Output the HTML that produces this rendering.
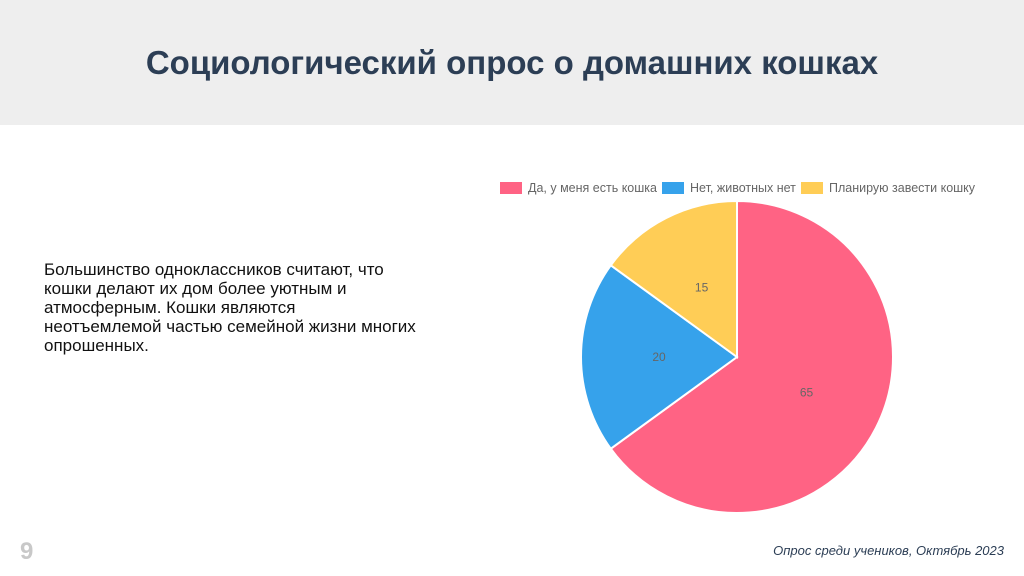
<!DOCTYPE html>
<html><head><meta charset="utf-8"><style>
body{margin:0;width:1024px;height:576px;background:#fff;font-family:"Liberation Sans",sans-serif;position:relative;overflow:hidden}
.hdr{position:absolute;left:0;top:0;width:1024px;height:125px;background:#eeeeee}
.hdr h1{margin:0;position:absolute;left:0;width:1024px;top:44px;text-align:center;font-size:33px;font-weight:bold;color:#2c3e55}
.txt{position:absolute;left:44px;top:260px;white-space:nowrap;font-size:17px;line-height:19px;color:#111}
.num{position:absolute;left:20px;top:538px;font-size:24px;font-weight:bold;color:#c8c8c8}
.src{position:absolute;right:20px;top:543px;font-size:13px;font-style:italic;color:#2c3e55}
</style></head><body>
<div class="hdr"><h1>Социологический опрос о домашних кошках</h1></div>
<div class="txt">Большинство одноклассников считают, что<br>кошки делают их дом более уютным и<br>атмосферным. Кошки являются<br>неотъемлемой частью семейной жизни многих<br>опрошенных.</div>
<svg id="chart" width="1024" height="576" style="position:absolute;left:0;top:0"></svg>
<div class="num">9</div>
<div class="src">Опрос среди учеников, Октябрь 2023</div>
<script>
const labels=["Да, у меня есть кошка","Нет, животных нет","Планирую завести кошку"];
const values=[65,20,15];
const colors=["#ff6384","#36a2eb","#ffcd56"];
const ns="http://www.w3.org/2000/svg";
const svg=document.getElementById('chart');
const cx=737,cy=357,r=156;
const total=values.reduce((a,b)=>a+b,0);
let a0=-Math.PI/2;
values.forEach((v,i)=>{
  const a1=a0+v/total*2*Math.PI;
  const x0=cx+r*Math.cos(a0),y0=cy+r*Math.sin(a0),x1=cx+r*Math.cos(a1),y1=cy+r*Math.sin(a1);
  const p=document.createElementNS(ns,'path');
  p.setAttribute('d',`M${cx},${cy}L${x0},${y0}A${r},${r} 0 ${a1-a0>Math.PI?1:0} 1 ${x1},${y1}Z`);
  p.setAttribute('fill',colors[i]);p.setAttribute('stroke','#fff');p.setAttribute('stroke-width','2');
  
  
  svg.appendChild(p);
  const am=(a0+a1)/2;
  const t=document.createElementNS(ns,'text');
  t.setAttribute('x',cx+r*0.5*Math.cos(am));t.setAttribute('y',cy+r*0.5*Math.sin(am)+4);
  t.setAttribute('text-anchor','middle');t.setAttribute('font-size','12');t.setAttribute('fill','#666');
  t.setAttribute('font-family','Liberation Sans, sans-serif');
  t.textContent=v;
  
  
  svg.appendChild(t);
  a0=a1;
});
const lx=[500,662,801];
labels.forEach((l,i)=>{
  const g=document.createElementNS(ns,'g');
  
  
  const b=document.createElementNS(ns,'rect');
  b.setAttribute('x',lx[i]);b.setAttribute('y',182);b.setAttribute('width',22);b.setAttribute('height',12);b.setAttribute('fill',colors[i]);
  g.appendChild(b);
  const t=document.createElementNS(ns,'text');
  t.setAttribute('x',lx[i]+28);t.setAttribute('y',192);t.setAttribute('font-size','12.5');t.setAttribute('fill','#666');
  t.setAttribute('font-family','Liberation Sans, sans-serif');
  t.textContent=l;g.appendChild(t);
  svg.appendChild(g);
});
</script>
</body></html>
